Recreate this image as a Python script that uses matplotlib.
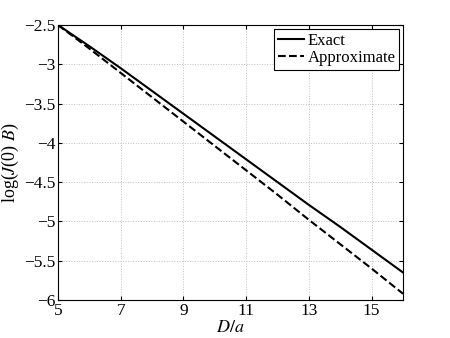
import numpy as np
import matplotlib.pyplot as plt

plt.rcParams['font.family'] = ['Liberation Serif', 'DejaVu Serif']
plt.rcParams['mathtext.fontset'] = 'stix'

# values
d_over_a = [5, 6, 7, 8, 9, 10, 11, 12, 13, 14, 15, 16]
exact = [-2.50, -2.77, -3.05, -3.34, -3.63, -3.92, -4.21, -4.50, -4.79, -5.07, -5.36, -5.65]
approx = [-2.50, -2.80, -3.11, -3.42, -3.73, -4.04, -4.35, -4.66, -4.98, -5.29, -5.60, -5.92]
xticks = [5, 7, 9, 11, 13, 15]
yticks = [-6, -5.5, -5, -4.5, -4, -3.5, -3, -2.5]

fig = plt.figure(figsize=(4.5, 3.38), dpi=100)
ax = fig.add_axes([58/450, 38/338, 345/450, 275/338])

ax.plot(d_over_a, exact, 'k-', lw=1.5, label='Exact')
ax.plot(d_over_a, approx, 'k--', lw=1.5, label='Approximate')

ax.set_xlim(5, 16)
ax.set_ylim(-6, -2.5)
ax.set_xticks(xticks)
ax.set_yticks(yticks)
ax.set_yticklabels(['\u2212' + ('%g' % -v) for v in yticks])
ax.tick_params(direction='in', top=True, right=True, labelsize=12.5, length=3, pad=2)
ax.tick_params(axis='x', pad=2)
ax.grid(True, ls=':', color='#c0c0c0', lw=0.7)
ax.set_xlabel('$D/a$', fontsize=13, labelpad=0)
ax.set_ylabel('log($J$(0) $B$)', fontsize=13, labelpad=2)

leg = ax.legend(loc='upper right', fontsize=12, fancybox=False, framealpha=1,
                edgecolor='k', borderaxespad=0.25, handlelength=1.6,
                borderpad=0.2, labelspacing=0.1, handletextpad=0.2)
leg.get_frame().set_linewidth(0.8)

fig.savefig('out.png', dpi=100)
